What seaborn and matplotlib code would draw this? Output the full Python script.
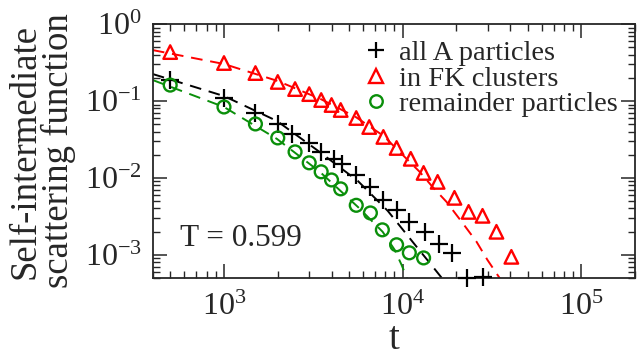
import matplotlib
matplotlib.use("Agg")
import matplotlib.pyplot as plt
import seaborn as sns
import pandas as pd
from matplotlib.lines import Line2D

# ---- data ----
t_all = [500, 1000, 1500, 2000, 2400, 3000, 3500, 4150, 4550, 5500, 6550, 7750,
         9250, 10900, 13300, 15900, 19000, 22800, 28000]
f_all = [0.187, 0.109, 0.0698, 0.0503, 0.0373, 0.0285, 0.0218, 0.0177, 0.0152,
         0.0109, 0.00764, 0.00518, 0.00384, 0.00268, 0.00199, 0.00139, 0.00106,
         0.000502, 0.000518]

t_fk = [500, 1000, 1500, 2000, 2500, 3000, 3500, 4000, 4500, 5500, 6500, 7800,
        9250, 11100, 13100, 15700, 19500, 23400, 28000, 33500, 40600]
f_fk = [0.433, 0.312, 0.231, 0.177, 0.143, 0.123, 0.103, 0.0887, 0.0764, 0.0601,
        0.0459, 0.0341, 0.0245, 0.0177, 0.0116, 0.00887, 0.00550, 0.00361,
        0.00321, 0.00199, 0.00094]

t_rem = [500, 1000, 1500, 2000, 2500, 3000, 3500, 4000, 4500, 5500, 6600, 7700,
         9250, 10900, 13100]
f_rem = [0.161, 0.0836, 0.0503, 0.0331, 0.0218, 0.0157, 0.0120, 0.0094, 0.0072,
         0.0044, 0.0035, 0.00211, 0.00135, 0.00106, 0.00091]

# dashed fit curves
fit_fk_t = [400, 1000, 2000, 3480, 5460, 7830, 10000, 12450, 14700, 17600,
            21600, 25900, 29800, 34800, 40600]
fit_fk_f = [0.459, 0.303, 0.182, 0.106, 0.0620, 0.0351, 0.0199, 0.0120, 0.00764,
            0.00488, 0.00261, 0.00148, 0.00086, 0.000503, 0.00026]

fit_all_t = [400, 1000, 1980, 3310, 5610, 8250, 11970, 14160, 16520, 17500]
fit_all_f = [0.224, 0.116, 0.0550, 0.0231, 0.00914, 0.00373, 0.00127, 0.000787,
             0.000503, 0.0004]

fit_rem_t = [400, 1000, 1980, 3440, 5610, 7730, 9020, 9860, 10670]
fit_rem_f = [0.187, 0.0836, 0.0321, 0.0120, 0.00420, 0.00199, 0.00116, 0.00074,
             0.00047]

labels = ["all A particles", "in FK clusters", "remainder particles"]
x_ticks = [1e3, 1e4, 1e5]
x_ticklabels = [r"$10^{3}$", r"$10^{4}$", r"$10^{5}$"]
y_ticks = [1e-3, 1e-2, 1e-1, 1e0]
y_ticklabels = [r"$10^{-3}$", r"$10^{-2}$", r"$10^{-1}$", r"$10^{0}$"]

# ---- style ----
sns.set_style("ticks")
plt.rcParams["font.family"] = ["Liberation Serif", "DejaVu Serif"]
plt.rcParams["mathtext.fontset"] = "custom"
plt.rcParams["mathtext.rm"] = "Liberation Serif"
plt.rcParams["mathtext.it"] = "Liberation Serif:italic"

RED = "#ff0000"
GREEN = "#0a8f0a"
BLACK = "#000000"

fig = plt.figure(figsize=(6.37, 3.60), dpi=100)
ax = fig.add_axes([0.240, 0.228, 0.757, 0.705])

ax.set_xscale("log")
ax.set_yscale("log")

dash = (0, (6, 4))
for tt, ff, c in [(fit_fk_t, fit_fk_f, RED), (fit_all_t, fit_all_f, BLACK),
                  (fit_rem_t, fit_rem_f, GREEN)]:
    sns.lineplot(x=tt, y=ff, ax=ax, color=c, lw=1.4, linestyle=dash,
                 sort=False, errorbar=None, zorder=2)

sns.scatterplot(x=t_all, y=f_all, ax=ax, marker="+", s=150, color=BLACK,
                linewidth=1.6, zorder=4, clip_on=False)
sns.scatterplot(x=t_fk, y=f_fk, ax=ax, marker="^", s=95, facecolors="none",
                edgecolors=RED, linewidths=1.7, zorder=4, clip_on=False)
sns.scatterplot(x=t_rem, y=f_rem, ax=ax, marker="o", s=85, facecolors="none",
                edgecolors=GREEN, linewidths=1.7, zorder=4, clip_on=False)

ax.set_xlim(400, 2e5)
ax.set_ylim(5e-4, 1)

ax.set_xticks(x_ticks)
ax.set_xticklabels(x_ticklabels, fontsize=23)
ax.set_yticks(y_ticks)
ax.set_yticklabels(y_ticklabels, fontsize=23)

ax.tick_params(which="major", direction="in", length=10, width=1.1,
               top=True, right=True)
ax.tick_params(axis="x", which="major", pad=11)
ax.tick_params(axis="y", which="major", pad=8)
ax.tick_params(which="minor", direction="in", length=5, width=1.0,
               top=True, right=True)
for s in ax.spines.values():
    s.set_linewidth(1.3)
    s.set_visible(True)

ax.set_xlabel("t", fontsize=28, labelpad=-1)
ax.set_ylabel("Self-intermediate\nscattering function", fontsize=26.5,
              linespacing=0.95, labelpad=6)

ax.text(0.183, 0.157, "T = 0.599", transform=ax.transAxes, fontsize=22.5,
        ha="center", va="center")

handles = [
    Line2D([], [], ls="", marker="+", ms=11, mew=1.6, color=BLACK),
    Line2D([], [], ls="", marker="^", ms=9.5, mew=1.7, mfc="none", mec=RED),
    Line2D([], [], ls="", marker="o", ms=9, mew=1.7, mfc="none", mec=GREEN),
]
ax.legend(handles, labels, loc="upper right", bbox_to_anchor=(0.97, 0.95),
          frameon=False, fontsize=20.5, handlelength=0.7, handletextpad=0.45,
          labelspacing=0.0, borderaxespad=0.0, borderpad=0.1)

fig.savefig("out.png", dpi=100)
